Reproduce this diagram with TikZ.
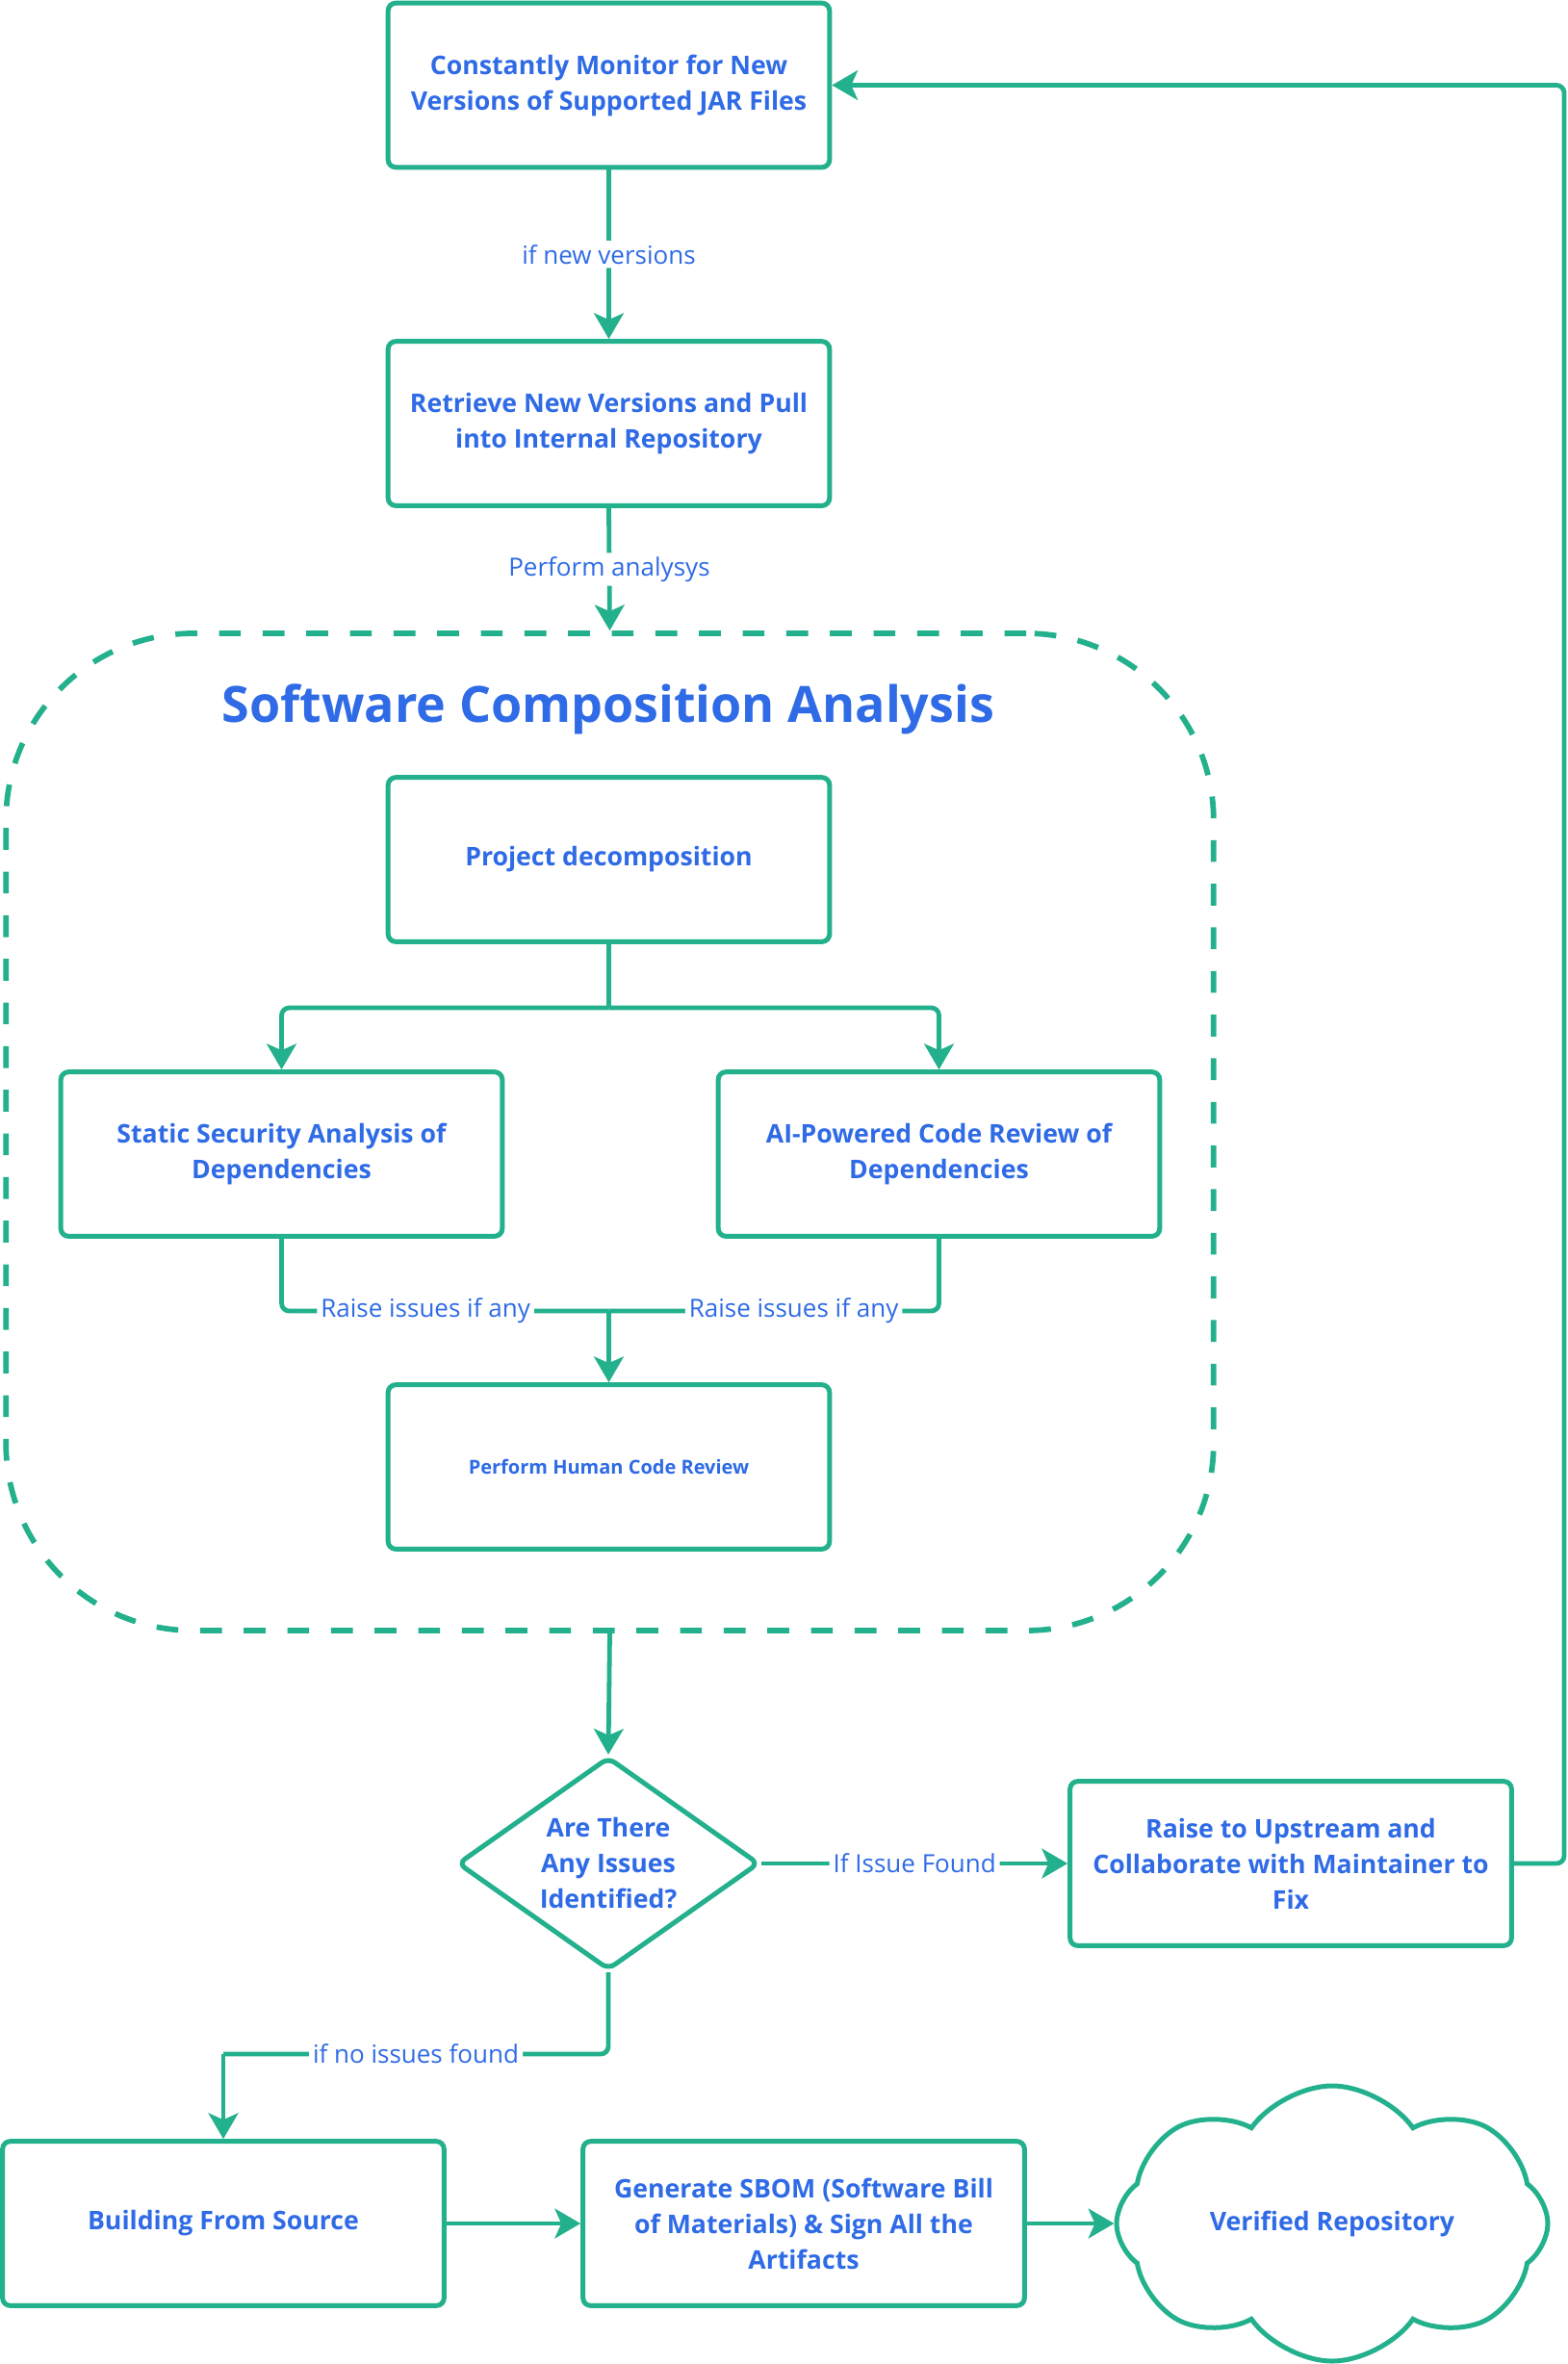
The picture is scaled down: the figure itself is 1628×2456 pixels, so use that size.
\documentclass[tikz,border=0pt]{standalone}
\usepackage{fontspec}
\setmainfont{Open Sans}
\usetikzlibrary{arrows.meta,shapes.geometric,shapes.symbols}
\definecolor{flowgreen}{RGB}{35,176,140}
\definecolor{flowblue}{RGB}{47,107,230}
\tikzset{every picture/.style={line width=0.75pt}}

\begin{document}
\begin{tikzpicture}[x=0.75pt,y=0.75pt,yscale=-1,xscale=1,
  stepbox/.style={draw=flowgreen,line width=3.75pt,rounded corners=6pt,fill=white,minimum width=344pt,minimum height=128pt,inner sep=0pt,align=center,text=flowblue,font=\fontsize{20}{27.75}\selectfont\bfseries},
  decision/.style={diamond,draw=flowgreen,line width=3.75pt,rounded corners=6pt,fill=white,minimum width=235pt,minimum height=166pt,aspect=1.4,inner sep=0pt,align=center,text=flowblue,font=\fontsize{20}{27.75}\selectfont\bfseries},
  repobox/.style={cloud,cloud puffs=8,cloud puff arc=110,aspect=1.55,draw=flowgreen,line width=3.75pt,fill=white,minimum width=336pt,minimum height=206pt,inner sep=0pt,text=flowblue,font=\fontsize{20}{27.75}\selectfont\bfseries},
  group/.style={draw=flowgreen,line width=4.3pt,dash pattern=on 17pt off 17pt,rounded corners=146pt,minimum width=941pt,minimum height=777pt,inner sep=0pt},
  conn/.style={draw=flowgreen,line width=3.6pt,rounded corners=6pt,-{Stealth[length=20pt,width=23pt,inset=5pt]}},
  link/.style={draw=flowgreen,line width=3.6pt,rounded corners=6pt},
  lbl/.style={fill=white,text=flowblue,inner sep=3pt,font=\fontsize{19.5}{24}\selectfont}
]
\fill[white] (0,0) rectangle (1628,2456);
\useasboundingbox (0,0) rectangle (1628,2456);

%Shape: Rounded Rect (dashed group)
\node[group] (sca) at (633.5,1176) {};
% Text Node
\node[text=flowblue,font=\fontsize{39}{46}\selectfont\bfseries] (scatitle) at (632,737) {Software Composition Analysis};

%Shape: Rectangle
\node[stepbox] (monitor) at (632.5,88.5) {Constantly Monitor for New\\Versions of Supported JAR Files};
\node[stepbox] (retrieve) at (632.5,440) {Retrieve New Versions and Pull\\into Internal Repository};
\node[stepbox] (decomp) at (632.5,893) {Project decomposition};
\node[stepbox] (static) at (292.5,1199) {Static Security Analysis of\\Dependencies};
\node[stepbox] (aireview) at (975.5,1199) {AI-Powered Code Review of\\Dependencies};
\node[stepbox,font=\fontsize{15}{20}\selectfont\bfseries] (human) at (632.5,1524) {Perform Human Code Review};

%Shape: Diamond
\node[decision] (check) at (632,1936) {Are There\\Any Issues\\Identified?};
\node[stepbox] (raise) at (1341,1936) {Raise to Upstream and\\Collaborate with Maintainer to\\Fix};

\node[stepbox] (build) at (232,2310) {Building From Source};
\node[stepbox] (sbom) at (835,2310) {Generate SBOM (Software Bill\\of Materials) \& Sign All the\\Artifacts};
%Shape: Cloud
\node[repobox] (repo) at (1384,2310) {Verified Repository};

%Straight Lines
\coordinate (fork) at (632.5,1047);
\coordinate (merge) at (632.5,1362);
\coordinate (backtop) at (1625,88.5);
\coordinate (noissue) at (232,2134);

\draw[conn] (monitor.south) -- node[lbl] {if new versions} (retrieve.north);
\draw[conn] (retrieve.south) -- node[lbl] {Perform analysys} (sca.north);

\draw[link] (decomp.south) -- (fork);
\draw[conn] (fork) -| (static.north);
\draw[conn] (fork) -| (aireview.north);

\draw[link] (static.south) |- node[lbl,pos=0.72] {Raise issues if any} (merge);
\draw[link] (aireview.south) |- node[lbl,pos=0.72] {Raise issues if any} (merge);
\draw[conn] (merge) -- (human.north);

\draw[conn] (sca.south) -- (check.north);
\draw[conn] (check.east) -- node[lbl] {If Issue Found} (raise.west);
\draw[conn] (raise.east) -| (backtop) -- (monitor.east);

\draw[link] (check.south) |- node[lbl,pos=0.75] {if no issues found} (noissue);
\draw[conn] (noissue) -- (build.north);

\draw[conn] (build.east) -- (sbom.west);
\draw[conn] (sbom.east) -- (repo.west);

\end{tikzpicture}
\end{document}
